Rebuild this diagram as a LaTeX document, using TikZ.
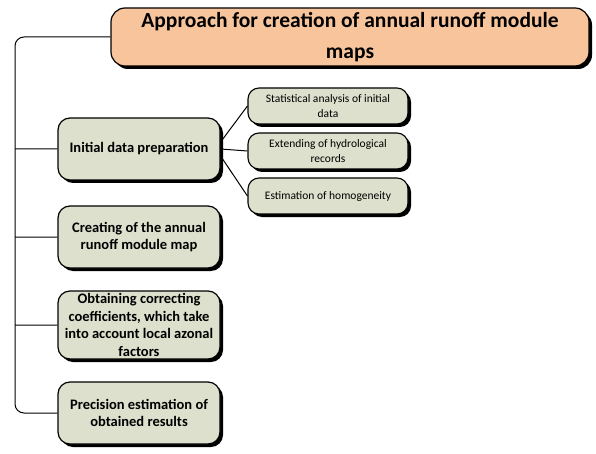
\documentclass[tikz,border=0pt]{standalone}
\usepackage{fontspec}
\setmainfont{Carlito}
\usepackage{tikz}
\usetikzlibrary{positioning,shadows}
\definecolor{titlefill}{RGB}{248,196,156}
\definecolor{boxfill}{RGB}{221,224,204}
\begin{document}
\begin{tikzpicture}[x=1pt,y=-1pt,node distance=88pt,on grid,
    shade/.style={drop shadow={shadow xshift=3pt,shadow yshift=-3pt,fill=black,opacity=1}},
    titlebox/.style={draw,line width=1.2pt,rounded corners=14pt,fill=titlefill,shade,
        minimum width=478pt,minimum height=58pt,inner sep=1pt,align=center,font=\fontsize{21.5}{30.5}\selectfont\bfseries},
    mainbox/.style={draw,line width=1.2pt,rounded corners=12pt,fill=boxfill,shade,
        minimum width=162pt,minimum height=62pt,inner sep=1pt,align=center,font=\fontsize{14.5}{17.5}\selectfont\bfseries},
    subbox/.style={draw,line width=1.1pt,rounded corners=11pt,fill=boxfill,shade,
        minimum width=160pt,minimum height=36pt,inner sep=1pt,align=center,font=\fontsize{11.5}{15}\selectfont},
    link/.style={line width=1pt}]
   \useasboundingbox (0,0) rectangle (596,454);
   \coordinate (trunk) at (15,0);
   \node[titlebox] (title) at (350,37) {Approach for creation of annual runoff module\\maps};
   \node[mainbox] (prep) at (139,149) {Initial data preparation};
   \node[mainbox] (map) [below=of prep] {Creating of the annual\\runoff module map};
   \node[mainbox,minimum height=68pt] (coef) [below=of map] {Obtaining correcting\\coefficients, which take\\into account local azonal\\factors};
   \node[mainbox] (prec) [below=of coef] {Precision estimation of\\obtained results};
   \node[subbox] (stat) at (328,106) {Statistical analysis of initial\\data};
   \node[subbox] (ext) [below=45pt of stat] {Extending of hydrological\\records};
   \node[subbox] (homog) [below=45pt of ext] {Estimation of homogeneity};
    \draw[link,rounded corners=9pt] (title.west) -| (trunk |- prec.west) -- (prec.west);
    \path[link,draw]
    (prep.west) -- (prep.west -| trunk)
    (map.west) -- (map.west -| trunk)
    (coef.west) -- (coef.west -| trunk)
    ([yshift=7pt]prep.east) -- (stat.west)
    (prep.east) -- (ext.west)
    ([yshift=-7pt]prep.east) -- (homog.west);
\end{tikzpicture}
\end{document}
